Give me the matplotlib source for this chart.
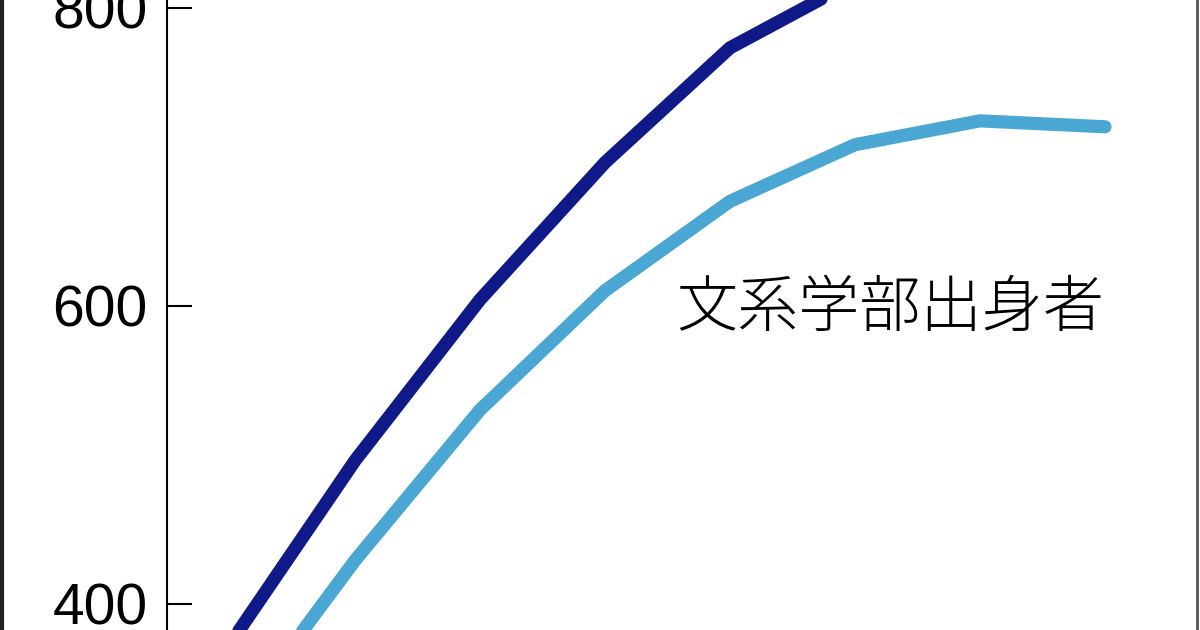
import numpy as np
import matplotlib
matplotlib.use("Agg")
import matplotlib.pyplot as plt
from matplotlib.lines import Line2D

# -------------------------------------------------------------------------
# DATA (cropped chart)
# -------------------------------------------------------------------------
x_idx = [0, 1, 2, 3, 4, 5, 6, 7]

# dark line (only the part that shows inside the crop)
navy_x = [0, 1, 2, 3, 4, 5]
navy_y = [373, 496, 604, 696, 773, 818]

# light line: 文系学部出身者
light_y = [316, 429, 530, 610, 670, 708, 724, 720]

yticks = [400, 600, 800]
label_bunkei = "文系学部出身者"

navy_color = "#0f1a88"
light_color = "#4aa6d2"

# -------------------------------------------------------------------------
# PLOT
# -------------------------------------------------------------------------
fig = plt.figure(figsize=(12, 6.3), dpi=100)
ax = fig.add_axes([167 / 1200, 0, (1197 - 167) / 1200, 1])

ax.plot(navy_x, navy_y, color=navy_color, lw=9.5, solid_capstyle="round", solid_joinstyle="round")
ax.plot(x_idx, light_y, color=light_color, lw=9.5, solid_capstyle="round", solid_joinstyle="round")

ax.set_xlim(-0.504, 7.736)
ax.set_ylim(382.3, 805.1)

for s in ["top", "right", "bottom"]:
    ax.spines[s].set_visible(False)
ax.spines["left"].set_linewidth(1.5)
ax.set_xticks([])
ax.set_yticks(yticks)
ax.set_yticklabels([str(v) for v in yticks], family="Liberation Sans", fontsize=41)
ax.tick_params(axis="y", direction="in", length=18, width=1.5, pad=14)

ax.text(5.28, 598, label_bunkei, ha="center", va="center", fontsize=44,
        family=["Noto Sans CJK JP", "DejaVu Sans"], fontweight="light")

# thin frame lines at the left and right edge of the crop
fig.add_artist(Line2D([0.0015, 0.0015], [0, 1], color="#222222", lw=3, transform=fig.transFigure))
fig.add_artist(Line2D([0.9975, 0.9975], [0, 1], color="#555555", lw=2, transform=fig.transFigure))

fig.savefig("out.png", dpi=100)
